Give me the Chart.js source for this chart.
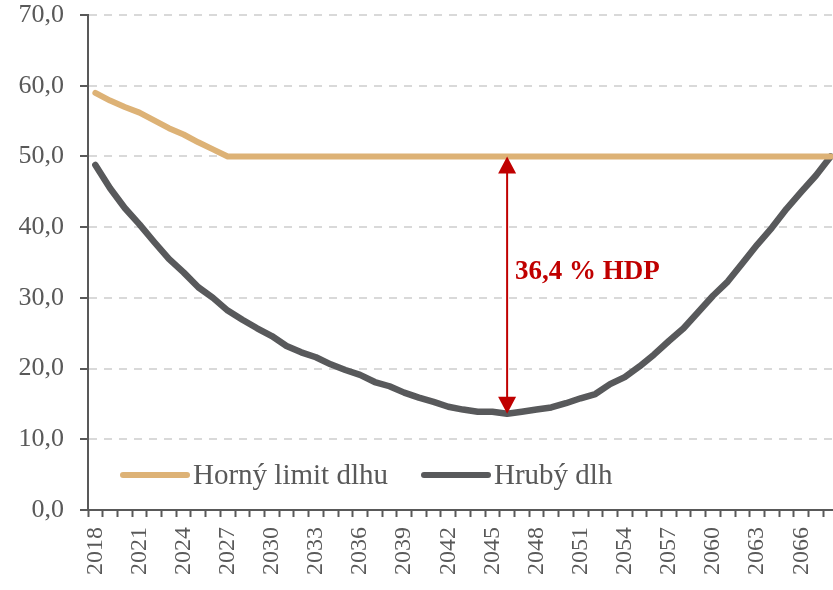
<!DOCTYPE html>
<html>
<head>
<meta charset="utf-8">
<script src="https://cdn.jsdelivr.net/npm/chart.js@4.4.0/dist/chart.umd.min.js"></script>
<style>
  html, body { margin: 0; padding: 0; background: #fff; overflow: hidden; }
  #wrap { width: 838px; height: 590px; }
</style>
</head>
<body>
<div id="wrap"><canvas id="debtChart" width="838" height="590"></canvas></div>
<script>
  const years = ['2018','2019','2020','2021','2022','2023','2024','2025','2026','2027',
    '2028','2029','2030','2031','2032','2033','2034','2035','2036','2037',
    '2038','2039','2040','2041','2042','2043','2044','2045','2046','2047',
    '2048','2049','2050','2051','2052','2053','2054','2055','2056','2057',
    '2058','2059','2060','2061','2062','2063','2064','2065','2066','2067','2068'];

  // Horny limit dlhu (% HDP)
  const debtLimit = [59.0, 57.9, 57.0, 56.2, 55.1, 54.0, 53.1, 52.0, 51.0, 50.0,
    50.0, 50.0, 50.0, 50.0, 50.0, 50.0, 50.0, 50.0, 50.0, 50.0,
    50.0, 50.0, 50.0, 50.0, 50.0, 50.0, 50.0, 50.0, 50.0, 50.0,
    50.0, 50.0, 50.0, 50.0, 50.0, 50.0, 50.0, 50.0, 50.0, 50.0,
    50.0, 50.0, 50.0, 50.0, 50.0, 50.0, 50.0, 50.0, 50.0, 50.0, 50.0];

  // Hruby dlh (% HDP)
  const grossDebt = [48.8, 45.5, 42.7, 40.4, 37.9, 35.5, 33.6, 31.5, 30.0, 28.2,
    26.9, 25.7, 24.6, 23.2, 22.3, 21.6, 20.6, 19.8, 19.1, 18.1,
    17.5, 16.6, 15.9, 15.3, 14.6, 14.2, 13.9, 13.9, 13.6, 13.9,
    14.2, 14.5, 15.1, 15.8, 16.4, 17.8, 18.8, 20.3, 22.0, 23.9,
    25.7, 28.0, 30.3, 32.3, 34.9, 37.5, 39.9, 42.6, 45.0, 47.3, 50.0];

  const yTickLabels = ['0,0','10,0','20,0','30,0','40,0','50,0','60,0','70,0'];
  const gapYear = '2046';

  const serif = '"Liberation Serif", "Times New Roman", serif';
  const axisGrey = '#595959';
  const red = '#C00000';

  // arrow + label showing the gap between limit and debt
  const gapArrow = {
    id: 'gapArrow',
    afterDatasetsDraw(chart) {
      const { ctx, scales: { x, y } } = chart;
      const i = years.indexOf(gapYear);
      const px = x.getPixelForValue(i);
      const yTop = y.getPixelForValue(debtLimit[i]);
      const yBot = y.getPixelForValue(grossDebt[i]);
      const head = 17, half = 9;
      ctx.save();
      ctx.strokeStyle = red;
      ctx.fillStyle = red;
      ctx.lineWidth = 2;
      ctx.beginPath();
      ctx.moveTo(px, yTop + head - 2);
      ctx.lineTo(px, yBot - head + 2);
      ctx.stroke();
      ctx.beginPath();
      ctx.moveTo(px, yTop); ctx.lineTo(px - half, yTop + head); ctx.lineTo(px + half, yTop + head);
      ctx.closePath(); ctx.fill();
      ctx.beginPath();
      ctx.moveTo(px, yBot); ctx.lineTo(px - half, yBot - head); ctx.lineTo(px + half, yBot - head);
      ctx.closePath(); ctx.fill();
      const gap = (debtLimit[i] - grossDebt[i]).toFixed(1).replace('.', ',');
      ctx.font = 'bold 27px ' + serif;
      ctx.textBaseline = 'alphabetic';
      ctx.textAlign = 'left';
      ctx.fillText(gap + ' % HDP', px + 8, y.getPixelForValue(32.6));
      ctx.restore();
    }
  };

  // legend drawn inside the plot area
  const innerLegend = {
    id: 'innerLegend',
    afterDraw(chart) {
      const { ctx, chartArea } = chart;
      const ly = chartArea.bottom - 35;
      const spots = [35, 336];
      ctx.save();
      ctx.font = '29px ' + serif;
      ctx.fillStyle = axisGrey;
      ctx.textBaseline = 'alphabetic';
      chart.data.datasets.forEach((ds, k) => {
        const x0 = chartArea.left + spots[k];
        ctx.strokeStyle = ds.borderColor;
        ctx.lineWidth = 6;
        ctx.lineCap = 'round';
        ctx.beginPath();
        ctx.moveTo(x0, ly);
        ctx.lineTo(x0 + 64, ly);
        ctx.stroke();
        ctx.fillText(ds.label, x0 + 70, ly + 9);
      });
      ctx.restore();
    }
  };

  new Chart(document.getElementById('debtChart'), {
    type: 'line',
    data: {
      labels: years,
      datasets: [
        { label: 'Horný limit dlhu', data: debtLimit, borderColor: '#DDB276', borderWidth: 6,
          pointRadius: 0, tension: 0, borderCapStyle: 'round', borderJoinStyle: 'round' },
        { label: 'Hrubý dlh', data: grossDebt, borderColor: '#58595B', borderWidth: 6.5,
          pointRadius: 0, tension: 0, borderCapStyle: 'round', borderJoinStyle: 'round' }
      ]
    },
    options: {
      responsive: false,
      animation: false,
      layout: { padding: { top: 15, right: 0, left: 0, bottom: 0 } },
      plugins: { legend: { display: false }, tooltip: { enabled: false } },
      scales: {
        x: {
          offset: true,
          grid: { offset: true, drawOnChartArea: false, drawTicks: true, tickLength: 7,
            tickColor: axisGrey, tickWidth: 2 },
          border: { color: axisGrey, width: 2 },
          ticks: {
            autoSkip: false, maxRotation: 90, minRotation: 90, padding: 10,
            color: axisGrey, font: { family: serif, size: 24 },
            callback: (v, i) => (i % 3 === 0 ? years[i] : '')
          },
          afterFit: (s) => { s.height = 80; s.paddingLeft = 0; s.paddingRight = 0; }
        },
        y: {
          min: 0, max: 70,
          ticks: { stepSize: 10, padding: 16, color: axisGrey, font: { family: serif, size: 26 },
            callback: (v) => yTickLabels[Math.round(v / 10)] },
          grid: { color: '#D9D9D9', lineWidth: 2, tickLength: 8, tickColor: axisGrey,
            tickWidth: 2, tickBorderDash: [] },
          border: { color: axisGrey, width: 2, dash: [8, 7] },
          afterFit: (s) => { s.width = 88; s.paddingTop = 0; s.paddingBottom = 0; }
        }
      }
    },
    plugins: [gapArrow, innerLegend]
  });
</script>
</body>
</html>
